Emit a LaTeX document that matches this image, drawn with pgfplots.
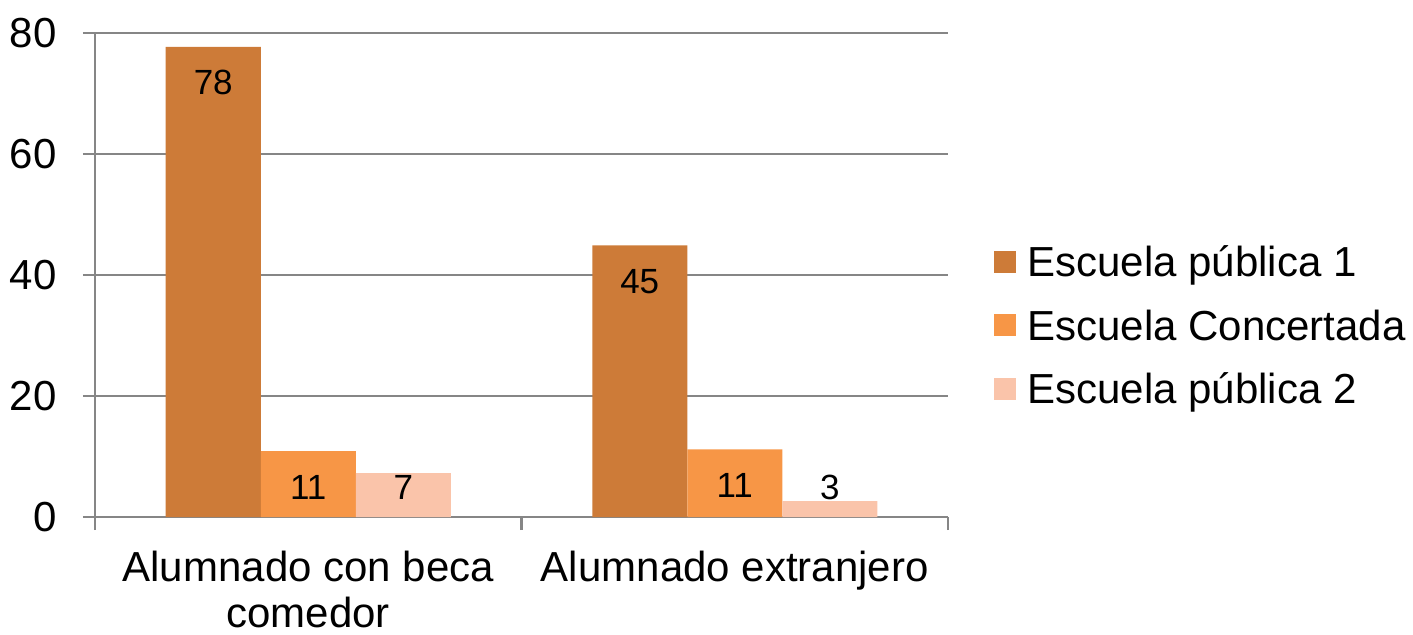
\documentclass[border=0pt]{standalone}
\usepackage{fontspec}
\setmainfont{Liberation Sans}
\usepackage{pgfplots}
\pgfplotsset{compat=1.18}
\definecolor{cA}{RGB}{205,123,56}
\definecolor{cB}{RGB}{247,150,70}
\definecolor{cC}{RGB}{250,196,170}
\definecolor{gridc}{RGB}{134,134,134}
\begin{document}
\begin{tikzpicture}
\useasboundingbox (-47.5pt,-58.5pt) rectangle (659pt,258.5pt);
\begin{axis}[
  scale only axis,
  width=426.5pt, height=242pt,
  xmin=-0.5, xmax=1.5, ymin=0, ymax=80,
  ybar, bar width=47.5pt,
  axis x line*=bottom, axis y line*=left,
  axis line style={draw=gridc, line width=1.2pt},
  /pgf/number format/assume math mode=true,
  font=\fontsize{21}{23}\selectfont,
  ytick={0,20,40,60,80},
  ymajorgrids, grid style={draw=gridc, line width=1.2pt},
  tick align=outside,
  major tick length=6pt,
  minor tick length=6.5pt,
  tick style={draw=gridc, line width=1.2pt},
  xtick={0,1},
  xticklabels={Alumnado con beca\\comedor, Alumnado extranjero},
  minor xtick={-0.5,0.5,1.5},
  every major x tick/.append style={draw=none},
  xticklabel style={align=center, inner sep=0pt, anchor=north, yshift=-11pt},
  yticklabel style={inner sep=0pt, anchor=east, xshift=-13pt},
  visualization depends on={y \as \rawy},
  nodes near coords={\pgfmathprintnumber[fixed,precision=0]{\pgfplotspointmeta}},
  every node near coord/.append style={font=\fontsize{17.5}{20}\selectfont, anchor=center, inner sep=0pt,
     yshift={max(-18,(4.96-\rawy)*3.025)}},
  legend style={draw=none, fill=none, at={(1,0.5)}, anchor=west, xshift=23pt, yshift=-27pt,
     inner sep=0pt, row sep=12.75pt, font=\fontsize{21}{24}\selectfont,
     nodes={inner sep=0pt, text height=15pt, text depth=4pt, anchor=base west}},
  legend cell align=left,
  legend image code/.code={\fill[#1] (0pt,2pt) rectangle (11pt,13pt); \path (16.5pt,7pt);},
]
\addplot[fill=cA, draw=none, bar shift=-47.5pt] coordinates {(0,77.7) (1,44.9)};
\addplot[fill=cB, draw=none, bar shift=0pt] coordinates {(0,10.9) (1,11.2)};
\addplot[fill=cC, draw=none, bar shift=47.5pt] coordinates {(0,7.25) (1,2.64)};
\legend{Escuela pública 1, Escuela Concertada, Escuela pública 2}
\end{axis}
\end{tikzpicture}
\end{document}
